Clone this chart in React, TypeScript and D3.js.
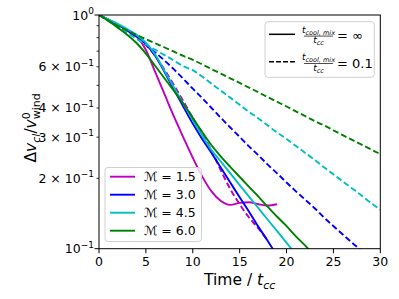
import React, { useEffect, useRef } from 'react';
import * as d3 from 'd3';

// time in units of t_cc
const time = [0, 1, 2, 3, 4, 5, 6, 7, 8, 9, 10, 11, 12, 13, 14, 15, 16, 17, 18, 19, 20, 21, 22, 23, 24, 25, 26, 27, 28, 29, 30];

// dv_cl / v_wind^0, t_cool,mix/t_cc = inf (solid) and 0.1 (dashed)
const m15Inf = [1.0, 0.955, 0.908, 0.861, 0.813, 0.708, 0.569, 0.457, 0.367, 0.299, 0.245, 0.204, 0.176, 0.160, 0.154, 0.157, 0.158, 0.155, 0.153, 0.155];
const m15Cool = [1.0, 0.953, 0.904, 0.855, 0.805, 0.745, 0.668, 0.582, 0.501, 0.427, 0.363, 0.309, 0.263, 0.216, 0.180, 0.155, 0.136, 0.122, 0.108];
const m30Inf = [1.0, 0.955, 0.908, 0.859, 0.809, 0.750, 0.668, 0.569, 0.479, 0.405, 0.343, 0.295, 0.257, 0.222, 0.192, 0.166, 0.144, 0.124, 0.108, 0.093];
const m30Cool = [1.0, 0.951, 0.902, 0.853, 0.802, 0.745, 0.692, 0.638, 0.585, 0.533, 0.484, 0.441, 0.400, 0.363, 0.330, 0.301, 0.274, 0.251, 0.229, 0.210, 0.192, 0.176, 0.162, 0.149, 0.136, 0.125, 0.115, 0.106, 0.098, 0.090];
const m45Inf = [1.0, 0.959, 0.916, 0.871, 0.822, 0.762, 0.676, 0.575, 0.490, 0.417, 0.355, 0.305, 0.264, 0.236, 0.210, 0.187, 0.167, 0.149, 0.133, 0.119, 0.106, 0.095];
const m45Cool = [1.0, 0.944, 0.891, 0.839, 0.791, 0.748, 0.710, 0.673, 0.638, 0.603, 0.581, 0.545, 0.508, 0.474, 0.443, 0.413, 0.385, 0.361, 0.337, 0.314, 0.295, 0.275, 0.257, 0.240, 0.223, 0.208, 0.194, 0.181, 0.169, 0.157, 0.147];
const m60Inf = [1.0, 0.942, 0.883, 0.824, 0.759, 0.684, 0.605, 0.535, 0.473, 0.417, 0.363, 0.316, 0.277, 0.248, 0.224, 0.203, 0.184, 0.167, 0.151, 0.137, 0.125, 0.113, 0.103, 0.093];
const m60Cool = [1.0, 0.946, 0.899, 0.859, 0.822, 0.789, 0.757, 0.726, 0.697, 0.668, 0.643, 0.615, 0.587, 0.561, 0.536, 0.512, 0.489, 0.467, 0.445, 0.425, 0.406, 0.387, 0.369, 0.352, 0.337, 0.321, 0.306, 0.292, 0.279, 0.266, 0.254];

const machLabels = ['1.5', '3.0', '4.5', '6.0'];
const machColors = ['#bf00bf', '#0000ff', '#00bfbf', '#008000'];
const xTicks = [0, 5, 10, 15, 20, 25, 30];
const yMinor = [0.2, 0.3, 0.4, 0.5, 0.6, 0.7, 0.8, 0.9];
const yMinorLabels = [
  { v: 0.2, t: '2' },
  { v: 0.3, t: '3' },
  { v: 0.4, t: '4' },
  { v: 0.6, t: '6' },
];

function App() {
  const ref = useRef<SVGSVGElement>(null);

  useEffect(() => {
    const svg = d3.select(ref.current);
    svg.selectAll('*').remove();
    const font = 'DejaVu Sans';

    const left = 99, right = 380.3, top = 15, bottom = 248.7;
    const x = d3.scaleLinear().domain([0, 30]).range([left, right]);
    const y = d3.scaleLog().domain([0.1, 1]).range([bottom, top]);

    svg.append('defs').append('clipPath').attr('id', 'plotclip')
      .append('rect')
      .attr('x', left).attr('y', top)
      .attr('width', right - left).attr('height', bottom - top);

    const line = d3.line<number>()
      .x((d, i) => x(time[i]))
      .y(d => y(d))
      .curve(d3.curveMonotoneX);

    const series = [
      [m15Inf, m15Cool],
      [m30Inf, m30Cool],
      [m45Inf, m45Cool],
      [m60Inf, m60Cool],
    ];

    const plot = svg.append('g').attr('clip-path', 'url(#plotclip)');
    series.forEach((pair, k) => {
      plot.append('path')
        .attr('d', line(pair[0]))
        .attr('fill', 'none')
        .attr('stroke', machColors[k])
        .attr('stroke-width', 1.9);
      plot.append('path')
        .attr('d', line(pair[1]))
        .attr('fill', 'none')
        .attr('stroke', machColors[k])
        .attr('stroke-width', 1.9)
        .attr('stroke-dasharray', '6,3');
    });

    // frame
    svg.append('rect')
      .attr('x', left).attr('y', top)
      .attr('width', right - left).attr('height', bottom - top)
      .attr('fill', 'none').attr('stroke', '#000').attr('stroke-width', 1);

    // x ticks
    xTicks.forEach(t => {
      svg.append('line')
        .attr('x1', x(t)).attr('x2', x(t))
        .attr('y1', bottom).attr('y2', bottom + 4.5)
        .attr('stroke', '#000').attr('stroke-width', 1);
      svg.append('text')
        .attr('x', x(t)).attr('y', bottom + 17)
        .attr('text-anchor', 'middle')
        .attr('font-family', font).attr('font-size', 12.5)
        .text(t);
    });

    // y ticks
    [0.1, 1].forEach(v => {
      svg.append('line')
        .attr('x1', left - 4.5).attr('x2', left)
        .attr('y1', y(v)).attr('y2', y(v))
        .attr('stroke', '#000').attr('stroke-width', 1);
    });
    yMinor.forEach(v => {
      svg.append('line')
        .attr('x1', left - 2.5).attr('x2', left)
        .attr('y1', y(v)).attr('y2', y(v))
        .attr('stroke', '#000').attr('stroke-width', 0.8);
    });

    const yLabel = (v: number, mant: string | null, exp: string) => {
      const t = svg.append('text')
        .attr('x', left - 5).attr('y', y(v) + 4.5)
        .attr('text-anchor', 'end')
        .attr('font-family', font).attr('font-size', 12.5);
      t.append('tspan').text(mant ? `${mant} × 10` : '10');
      t.append('tspan').attr('dy', -5.5).attr('font-size', 9).text(exp);
    };
    yLabel(1, null, '0');
    yLabel(0.1, null, '−1');
    yMinorLabels.forEach(d => yLabel(d.v, d.t, '−1'));

    // x label
    const xl = svg.append('text')
      .attr('x', (left + right) / 2).attr('y', 285)
      .attr('text-anchor', 'middle')
      .attr('font-family', font).attr('font-size', 15.5);
    xl.append('tspan').text('Time / ');
    xl.append('tspan').attr('font-style', 'italic').text('t');
    xl.append('tspan').attr('font-style', 'italic').attr('font-size', 11).attr('dy', 3.5).text('cc');

    // y label
    const yl = svg.append('text')
      .attr('transform', `translate(36,${(top + bottom) / 2 - 4}) rotate(-90)`)
      .attr('text-anchor', 'middle')
      .attr('font-family', font).attr('font-size', 15.5);
    yl.append('tspan').text('Δ');
    yl.append('tspan').attr('font-style', 'italic').text('v');
    yl.append('tspan').attr('font-style', 'italic').attr('font-size', 11).attr('dy', 3.5).text('cl');
    yl.append('tspan').attr('dy', -3.5).text('/');
    yl.append('tspan').attr('font-style', 'italic').text('v');
    yl.append('tspan').attr('font-size', 11).attr('dy', -6).text('0');
    yl.append('tspan').attr('font-size', 11).attr('dx', -7).attr('dy', 10).text('wind');

    // Mach legend
    svg.append('rect')
      .attr('x', 105).attr('y', 167.5)
      .attr('width', 96.5).attr('height', 74)
      .attr('rx', 3)
      .attr('fill', '#fff').attr('fill-opacity', 0.8)
      .attr('stroke', '#d0d0d0').attr('stroke-width', 1);
    machLabels.forEach((m, k) => {
      const yy = 176.7 + k * 18;
      svg.append('line')
        .attr('x1', 110).attr('x2', 135)
        .attr('y1', yy).attr('y2', yy)
        .attr('stroke', machColors[k]).attr('stroke-width', 1.9);
      svg.append('text')
        .attr('x', 144).attr('y', yy + 4.5)
        .attr('font-family', font).attr('font-size', 12.5)
        .text(`ℳ = ${m}`);
    });

    // cooling legend
    svg.append('rect')
      .attr('x', 265).attr('y', 21.7)
      .attr('width', 109.3).attr('height', 55.6)
      .attr('rx', 3)
      .attr('fill', '#fff').attr('fill-opacity', 0.8)
      .attr('stroke', '#d0d0d0').attr('stroke-width', 1);
    const coolEntries = [
      { dash: null, rhs: '= ∞', yy: 34.3 },
      { dash: '5,2', rhs: '= 0.1', yy: 61.7 },
    ];
    coolEntries.forEach(e => {
      const ln = svg.append('line')
        .attr('x1', 269).attr('x2', 295)
        .attr('y1', e.yy).attr('y2', e.yy)
        .attr('stroke', '#000').attr('stroke-width', 1.5);
      if (e.dash) ln.attr('stroke-dasharray', e.dash);
      const num = svg.append('text')
        .attr('x', 318.5).attr('y', e.yy - 1.5)
        .attr('text-anchor', 'middle')
        .attr('font-family', font).attr('font-style', 'italic').attr('font-size', 9);
      num.append('tspan').text('t');
      num.append('tspan').attr('font-size', 6.5).attr('dy', 2).text('cool, mix');
      svg.append('line')
        .attr('x1', 304).attr('x2', 333)
        .attr('y1', e.yy + 1.8).attr('y2', e.yy + 1.8)
        .attr('stroke', '#000').attr('stroke-width', 0.7);
      const den = svg.append('text')
        .attr('x', 318.5).attr('y', e.yy + 9)
        .attr('text-anchor', 'middle')
        .attr('font-family', font).attr('font-style', 'italic').attr('font-size', 9);
      den.append('tspan').text('t');
      den.append('tspan').attr('font-size', 6.5).attr('dy', 2).text('cc');
      svg.append('text')
        .attr('x', 337).attr('y', e.yy + 6)
        .attr('font-family', font).attr('font-size', 13)
        .text(e.rhs);
    });
  }, []);

  return (
    <svg
      ref={ref}
      width={399}
      height={299}
      style={{ position: 'absolute', left: 0, top: 0, background: '#fff' }}
    />
  );
}

export default App;
